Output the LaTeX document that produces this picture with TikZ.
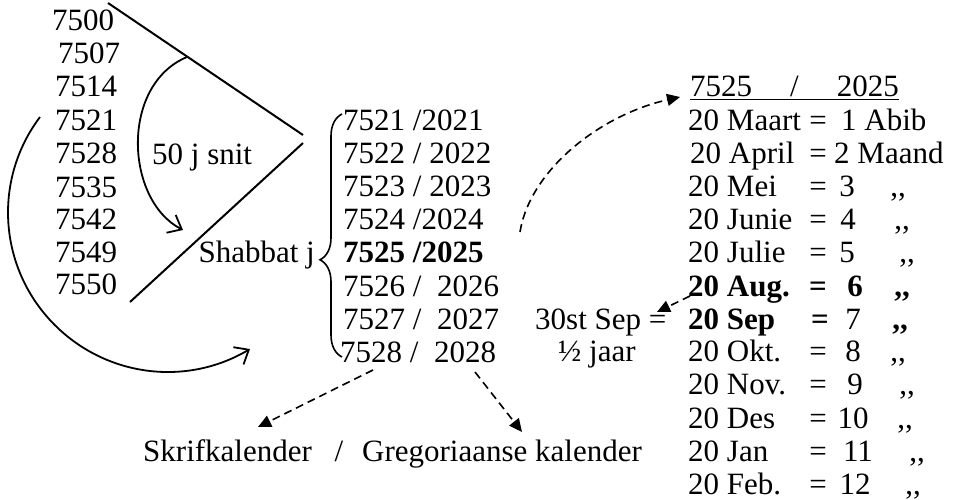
\documentclass[tikz,border=0pt]{standalone}
\usepackage{fontspec}
\setmainfont{Liberation Serif}
\usetikzlibrary{arrows.meta,decorations.pathreplacing}

\begin{document}
\begin{tikzpicture}[x=1pt,y=-1pt,
  font=\fontsize{31}{33}\selectfont,
  txt/.style={inner sep=0pt,anchor=base west},
  txtc/.style={inner sep=0pt,anchor=base},
  txte/.style={inner sep=0pt,anchor=base east},
  stroke/.style={line width=2pt},
  snitarrow/.style={line width=1.8pt,-{Straight Barb[length=12pt,width=20pt]}},
  dasharrow/.style={line width=1.6pt,dash pattern=on 8pt off 5pt,
    -{Triangle[length=13pt,width=12pt]}}]

  \useasboundingbox (0,0) rectangle (960,500);

  %% years of the jubilee, left
  \node[txt] (y7500) at (52,31)  {7500};
  \node[txt] (y7507) at (58,64)  {7507};
  \node[txt] (y7514) at (55,97)  {7514};
  \node[txt] (y7521) at (55,130) {7521};
  \node[txt] (y7528) at (55,163) {7528};
  \node[txt] (y7535) at (55,197) {7535};
  \node[txt] (y7542) at (55,229) {7542};
  \node[txt] (y7549) at (55,262) {7549};
  \node[txt] (y7550) at (55,294) {7550};

  \coordinate (uTop) at (108,3);
  \coordinate (uTip) at (303,135);
  \coordinate (lTip) at (303,143);
  \coordinate (lEnd) at (130,302);
  \draw[stroke] (uTop) -- (uTip);
  \draw[stroke] (lTip) -- (lEnd);

  \node[txt] (snit) at (152,164) {50 j snit};
  \node[txte] (shab) at (315,262) {Shabbat j};

  \coordinate (sA) at (187,57);
  \coordinate (sB) at (183,230);
  \draw[snitarrow] (sA) .. controls (120,85) and (125,200) .. (sB); %% 50 j snit

  \coordinate (bA) at (40,117);
  \coordinate (bM) at (49.5,319.5);
  \coordinate (bB) at (250,349);
  \draw[snitarrow] (bA) .. controls (-6,178) and (-2,263) .. (bM)
    .. controls (101,376) and (184,388) .. (bB); %% 7521 -> brace

  %% the seven years
  \draw[line width=1.6pt,decorate,decoration={brace,amplitude=22pt,aspect=0.4}]
    (342,357) -- (342,114);
  \node[txt] (r7521) at (343,130) {7521 /2021};
  \node[txt] (r7522) at (343,163) {7522 / 2022};
  \node[txt] (r7523) at (343,196) {7523 / 2023};
  \node[txt] (r7524) at (343,229) {7524 /2024};
  \node[txt] (r7525) at (343,262) {\bfseries 7525 /2025};
  \node[txt] (r7526) at (343,296) {7526 /~~2026};
  \node[txt] (r7527) at (343,329) {7527 /~~2027};
  \node[txt] (r7528) at (340,362) {7528 /~~2028};

  \node[txt] (skrif) at (143,461) {Skrifkalender};
  \node[txtc] (slash) at (339,461) {/};
  \node[txt] (greg) at (362,461) {Gregoriaanse kalender};

  \coordinate (kA) at (373,370);
  \coordinate (kB) at (258,427);
  \coordinate (gA) at (475,372);
  \coordinate (gB) at (522,432);
  \draw[dasharrow] (kA) -- (kB); %% 7528 -> Skrifkalender
  \draw[dasharrow] (gA) -- (gB); %% 2028 -> Gregoriaanse kalender

  \node[txt] (sep30) at (535,329) {30st Sep =};
  \node[txt] (half) at (558,361) {½ jaar};

  %% months of 7525 / 2025
  \node[txt] (hdr) at (690,97) {\underline{7525\hspace{38pt}/\hspace{38pt}2025}};

  \node[txt] (m1) at (688,130) {20 Maart};
  \node[txtc] (e1) at (818,130) {=};
  \node[txt] (n1) at (841,130) {1 Abib};
  \node[txt] (m2) at (690,163) {20 April};
  \node[txtc] (e2) at (818,163) {=};
  \node[txt] (n2) at (834,163) {2 Maand};

  \foreach \k/\mon/\nm/\nx/\dx in {3/20 Mei/3/847/898, 4/20 Junie/4/848/902,
      5/20 Julie/5/847/907, 8/20 Okt./8/853/898, 9/20 Nov./9/855/907,
      10/20 Des/10/853/905, 11/20 Jan/11/858/917, 12/20 Feb./12/855/913}{
    \node[txt] (m\k) at (688,{97+33.1*\k}) {\mon};
    \node[txtc] (e\k) at (818,{97+33.1*\k}) {=};
    \node[txtc] (n\k) at (\nx,{97+33.1*\k}) {\nm};
    \node[txtc] (d\k) at (\dx,{97+33.1*\k}) {,{},};
  }

  \node[txt] (m6) at (688,296) {\bfseries 20 Aug.};
  \node[txtc] (e6) at (818,296) {\bfseries =};
  \node[txtc] (n6) at (855,296) {\bfseries 6};
  \node[txtc] (d6) at (902,296) {\bfseries ,{},};
  \node[txt] (m7) at (688,329) {\bfseries 20 Sep};
  \node[txtc] (e7) at (820,329) {\bfseries =};
  \node[txtc] (n7) at (853,329) {7};
  \node[txtc] (d7) at (900,329) {\bfseries ,{},};

  \coordinate (dA) at (520,232);
  \coordinate (dB) at (680,97);
  \coordinate (hA) at (690,296);
  \coordinate (hB) at (657,312);
  \draw[dasharrow] (dA) .. controls (530,170) and (600,115) .. (dB); %% 7525 -> months
  \draw[dasharrow] (hA) -- (hB); %% Aug -> 30st Sep

\end{tikzpicture}
\end{document}
